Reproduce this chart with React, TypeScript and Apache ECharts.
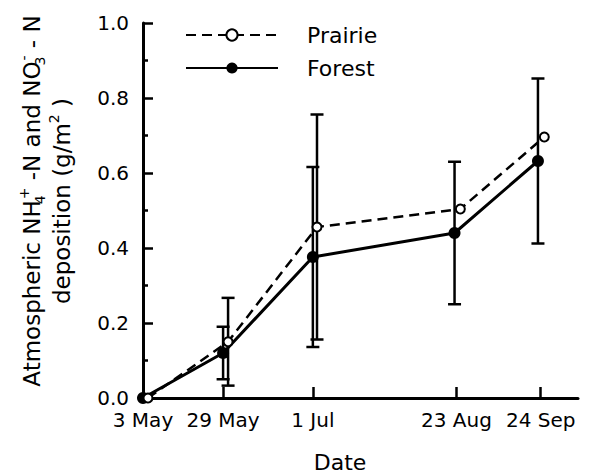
import React, { useEffect, useRef } from "react";
import * as echarts from "echarts";

// x positions on the date axis (days-like units)
const tickPos = [0, 29, 61.5, 113.5, 144];
const tickLabels = ["3 May", "29 May", "1 Jul", "23 Aug", "24 Sep"];
const xMax = 157.5;

const forestX = [0, 29, 61.5, 112.8, 143];
const forestY = [0, 0.12, 0.376, 0.44, 0.632];
const forestErr = [0, 0.07, 0.24, 0.19, 0.22];

const prairieX = [1.8, 30.8, 63, 114.9, 145.3];
const prairieY = [0, 0.15, 0.456, 0.504, 0.696];
const prairieErr = [0, 0.117, 0.3, 0, 0];

const FONT = "DejaVu Sans";

export default function App() {
  const ref = useRef<HTMLDivElement>(null);
  useEffect(() => {
    const chart = echarts.init(ref.current!, null, { renderer: "svg" });
    const errRender = (params: any, api: any) => {
      const x = api.value(0);
      const y = api.value(1);
      const e = api.value(2);
      if (!e) return null;
      const top = api.coord([x, y + e]);
      const bot = api.coord([x, y - e]);
      const hw = 6.5;
      const st = { stroke: "#000", lineWidth: 2.5 };
      return {
        type: "group",
        children: [
          { type: "line", shape: { x1: top[0], y1: top[1], x2: bot[0], y2: bot[1] }, style: st },
          { type: "line", shape: { x1: top[0] - hw, y1: top[1], x2: top[0] + hw, y2: top[1] }, style: st },
          { type: "line", shape: { x1: bot[0] - hw, y1: bot[1], x2: bot[0] + hw, y2: bot[1] }, style: st },
        ],
      };
    };
    const richTitle = {
      a: { fontSize: 23, fontFamily: FONT, color: "#000", lineHeight: 30 },
      s: { fontSize: 14, fontFamily: FONT, color: "#000", verticalAlign: "bottom", lineHeight: 14, width: 1 },
      p: { fontSize: 14, fontFamily: FONT, color: "#000", verticalAlign: "top", lineHeight: 14 },
    };
    chart.setOption({
      animation: false,
      backgroundColor: "#fff",
      grid: { left: 143, right: 14, top: 23, bottom: 77, outerBoundsMode: "none" },
      legend: {
        orient: "vertical",
        left: 180,
        top: 19,
        itemWidth: 92,
        itemHeight: 14,
        itemGap: 11,
        data: ["Prairie", "Forest"],
        textStyle: { fontSize: 22, fontFamily: FONT, color: "#000", padding: [8, 0, 0, 24] },
      },
      xAxis: {
        type: "value",
        min: 0,
        max: xMax,
        splitLine: { show: false },
        axisLine: { show: true, onZero: false, lineStyle: { color: "#000", width: 3 } },
        axisTick: { show: true, inside: true, length: 11, customValues: tickPos, lineStyle: { color: "#000", width: 2.5 } },
        axisLabel: {
          customValues: tickPos,
          formatter: (v: number) => tickLabels[tickPos.indexOf(v)] ?? "",
          fontSize: 20,
          fontFamily: FONT,
          color: "#000",
          margin: 12,
        },
      },
      yAxis: {
        type: "value",
        min: 0,
        max: 1,
        interval: 0.2,
        splitLine: { show: false },
        axisLine: { show: true, onZero: false, lineStyle: { color: "#000", width: 3 } },
        axisTick: { show: true, inside: true, length: 10, lineStyle: { color: "#000", width: 2.5 } },
        minorTick: { show: true, splitNumber: 2, length: 5, lineStyle: { color: "#000", width: 2.5 } },
        axisLabel: {
          formatter: (v: number) => v.toFixed(1),
          fontSize: 20,
          fontFamily: FONT,
          color: "#000",
          margin: 14,
        },
      },
      graphic: [
        {
          type: "text",
          x: 32,
          y: 201,
          rotation: Math.PI / 2,
          style: {
            text: "{a|Atmospheric NH}{s|4}{p|+}{a| -N and NO}{s|3}{p|-}{a| - N}",
            rich: richTitle,
            align: "center",
            verticalAlign: "middle",
          },
        },
        {
          type: "text",
          x: 62,
          y: 201,
          rotation: Math.PI / 2,
          style: {
            text: "{a|deposition (g/m}{p|2}{a| )}",
            rich: richTitle,
            align: "center",
            verticalAlign: "middle",
          },
        },
        {
          type: "text",
          x: 340,
          y: 462,
          style: { text: "Date", fontSize: 22, fontFamily: FONT, fill: "#000", align: "center", verticalAlign: "middle" },
        },
      ],
      series: [
        {
          name: "PrairieErr",
          type: "custom",
          renderItem: errRender,
          data: prairieX.map((x, i) => [x, prairieY[i], prairieErr[i]]),
          z: 1,
        },
        {
          name: "ForestErr",
          type: "custom",
          renderItem: errRender,
          data: forestX.map((x, i) => [x, forestY[i], forestErr[i]]),
          z: 1,
        },
        {
          name: "Prairie",
          type: "line",
          data: prairieX.map((x, i) => [x, prairieY[i]]),
          symbol: "emptyCircle",
          symbolSize: 9,
          color: "#000",
          itemStyle: { color: "#000", borderColor: "#000", borderWidth: 2 },
          lineStyle: { color: "#000", width: 2.5, type: [10, 6] },
          z: 3,
        },
        {
          name: "Forest",
          type: "line",
          data: forestX.map((x, i) => [x, forestY[i]]),
          symbol: "circle",
          symbolSize: 12,
          color: "#000",
          itemStyle: { color: "#000" },
          lineStyle: { color: "#000", width: 3, type: "solid" },
          z: 2,
        },
      ],
    });
    return () => chart.dispose();
  }, []);
  return <div ref={ref} style={{ width: 592, height: 475, position: "absolute", left: 0, top: 0 }} />;
}
